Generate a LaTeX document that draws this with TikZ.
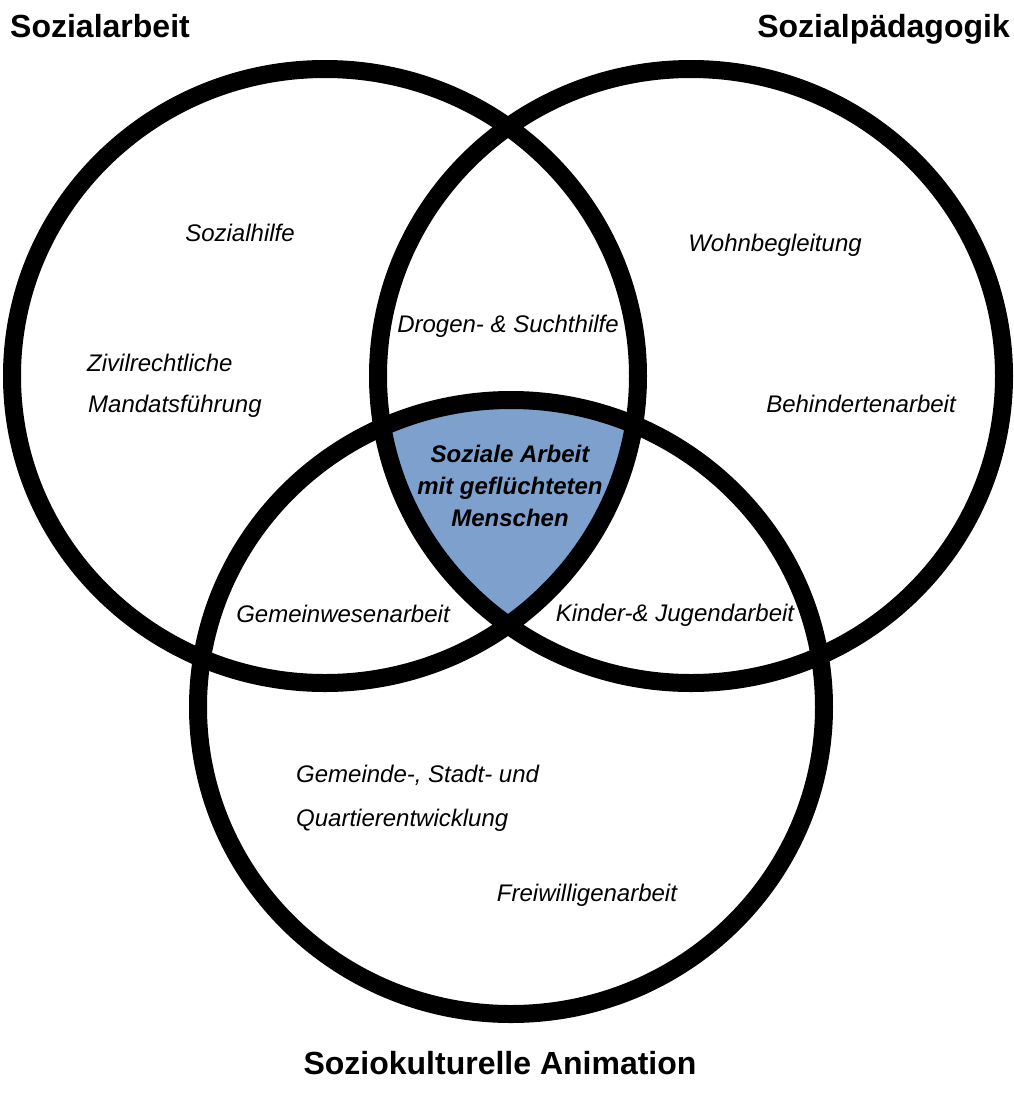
\documentclass[tikz,border=0pt]{standalone}
\usepackage{fontspec}
\setmainfont{Liberation Sans}
\definecolor{lensblue}{RGB}{125,160,205}
\begin{document}
\begin{tikzpicture}[x=1pt,y=-1pt,
  ring/.style={draw=black,line width=18pt},
  lbl/.style={font=\fontsize{24}{28}\selectfont\itshape, inner sep=0pt},
  ttl/.style={font=\fontsize{32}{38}\selectfont\bfseries, inner sep=0pt},
  core/.style={font=\fontsize{24}{31.7}\selectfont\bfseries\itshape, align=center, inner sep=0pt}]
\useasboundingbox (0,0) rectangle (1014,1104);
% lens of all three circles
\begin{scope}
  \clip (325,376) ellipse [x radius=313pt, y radius=307pt];
  \clip (691,376) ellipse [x radius=313pt, y radius=307pt];
  \fill[lensblue] (511,707) ellipse [x radius=313pt, y radius=307pt];
\end{scope}
% circles
\draw[ring] (325,376) ellipse [x radius=313pt, y radius=307pt];
\draw[ring] (691,376) ellipse [x radius=313pt, y radius=307pt];
\draw[ring] (511,707) ellipse [x radius=313pt, y radius=307pt];
% titles
\node[ttl, anchor=base west] (tSA) at (10,37) {Sozialarbeit};
\node[ttl, anchor=base east] (tSP) at (1010,37) {Sozialpädagogik};
\node[ttl, anchor=base] (tSK) at (500,1074) {Soziokulturelle Animation};
% labels
\node[lbl, anchor=base] (sh) at (240,241) {Sozialhilfe};
\node[lbl, anchor=base] (wb) at (775,251) {Wohnbegleitung};
\node[lbl, anchor=base] (ds) at (508,332) {Drogen- \& Suchthilfe};
\node[lbl, anchor=base west] (zr) at (87,371) {Zivilrechtliche};
\node[lbl, anchor=base west] (mf) at (88,412) {Mandatsführung};
\node[lbl, anchor=base] (ba) at (861,412) {Behindertenarbeit};
\node[lbl, anchor=base] (gw) at (343,622) {Gemeinwesenarbeit};
\node[lbl, anchor=base] (kj) at (675,621) {Kinder-\& Jugendarbeit};
\node[lbl, anchor=base west] (gs) at (296,782) {Gemeinde-, Stadt- und};
\node[lbl, anchor=base west] (qe) at (296,826) {Quartierentwicklung};
\node[lbl, anchor=base] (fw) at (587,901) {Freiwilligenarbeit};
% centre
\node[core] (centre) at (510,486) {Soziale Arbeit\\mit geflüchteten\\Menschen};
\end{tikzpicture}
\end{document}
